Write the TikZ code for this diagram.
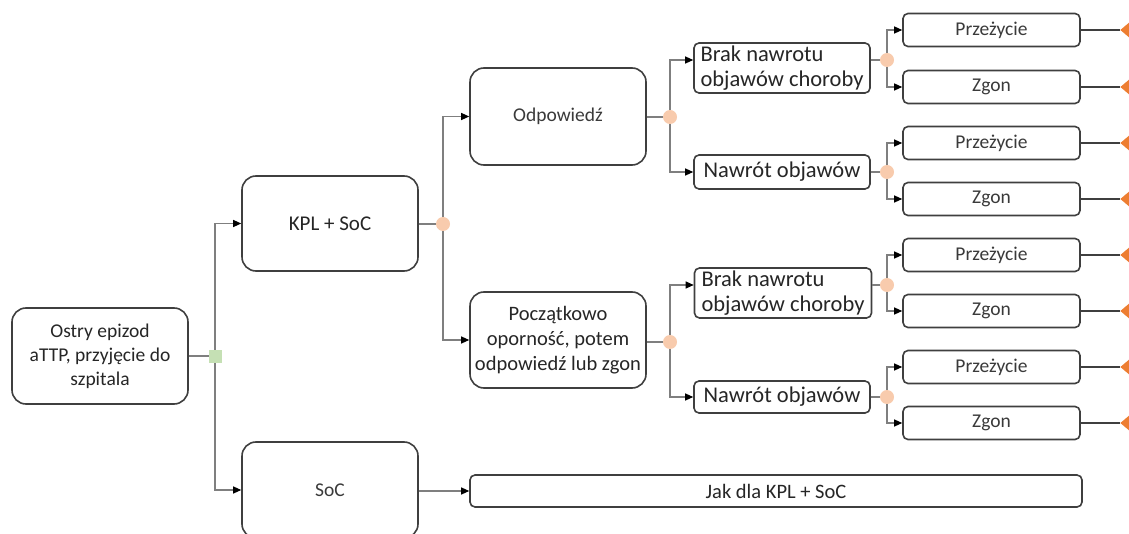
\documentclass[tikz,border=0pt]{standalone}
\usepackage{fontspec}
\setmainfont{Carlito}
\usetikzlibrary{arrows.meta,shapes.geometric}
\definecolor{boxc}{HTML}{3F3F3F}
\definecolor{linec}{HTML}{7F7F7F}
\definecolor{txt}{HTML}{262626}
\definecolor{txtg}{HTML}{3A3A3A}
\definecolor{peach}{HTML}{F8CBAD}
\definecolor{greenf}{HTML}{C5E0B4}
\definecolor{orangef}{HTML}{ED7D31}
\tikzset{
  bigbox/.style={draw=boxc, line width=1.6pt, rounded corners=14pt, fill=white,
    minimum width=176pt, minimum height=96pt, inner sep=0pt, align=center, text=txt},
  smallbox/.style={draw=boxc, line width=1.6pt, rounded corners=5pt, fill=white,
    minimum width=177pt, minimum height=33pt, inner sep=0pt, align=center, text=txt},
  conn/.style={draw=linec, line width=1.2pt},
  arr/.style={conn, -{Triangle[length=8pt,width=7pt,color=black]}},
  junc/.style={circle, fill=peach, minimum size=14pt, inner sep=0pt},
  gsq/.style={rectangle, fill=greenf, minimum size=13pt, inner sep=0pt},
  term/.style={isosceles triangle, shape border rotate=180, fill=orangef, inner sep=0pt,
    isosceles triangle apex angle=80, minimum height=12pt, anchor=apex},
  fbig/.style={font=\fontsize{22.5}{25}\selectfont},
  fpocz/.style={font=\fontsize{20.5}{25}\selectfont},
  fkpl/.style={font=\fontsize{21}{24}\selectfont},
  fstart/.style={font=\fontsize{19.5}{24}\selectfont},
  fmid/.style={font=\fontsize{19.5}{22}\selectfont, text=txtg},
  fjak/.style={font=\fontsize{20.5}{22}\selectfont}
}
\begin{document}
\begin{tikzpicture}[x=1pt,y=-1pt]
\clip (0,0) rectangle (1129,534);
\useasboundingbox (0,0) rectangle (1129,534);
% nodes
\node[bigbox,fstart] (start) at (100,356) {Ostry epizod\\aTTP, przyjęcie do\\szpitala};
\node[bigbox,fkpl,minimum height=95pt] (kpl) at (330,223.5) {KPL + SoC};
\node[bigbox,fmid] (soc) at (330,490) {SoC};
\node[bigbox,fmid,minimum height=97pt] (odp) at (558,116.5) {Odpowiedź};
\node[bigbox,fpocz] (pocz) at (558,340) {Początkowo\\oporność, potem\\odpowiedź lub zgon};
\node[smallbox,fbig,minimum width=176pt,minimum height=50pt,align=left] (brak1) at (782,68) {Brak nawrotu\\objawów choroby};
\node[smallbox,fbig,minimum width=176pt,minimum height=34pt] (naw1) at (782,172) {Nawrót objawów};
\node[smallbox,fbig,minimum width=177pt,minimum height=50pt,align=left] (brak2) at (783,293) {Brak nawrotu\\objawów choroby};
\node[smallbox,fbig,minimum width=176pt,minimum height=32pt] (naw2) at (782,397) {Nawrót objawów};
\node[smallbox,fmid] (p1) at (991.5,30) {Przeżycie};
\node[smallbox,fmid] (z1) at (991.5,87) {Zgon};
\node[smallbox,fmid] (p2) at (991.5,143) {Przeżycie};
\node[smallbox,fmid] (z2) at (991.5,199) {Zgon};
\node[smallbox,fmid] (p3) at (991.5,255) {Przeżycie};
\node[smallbox,fmid] (z3) at (991.5,311) {Zgon};
\node[smallbox,fmid] (p4) at (991.5,367) {Przeżycie};
\node[smallbox,fmid] (z4) at (991.5,423) {Zgon};
\node[smallbox,fjak,minimum width=612pt,minimum height=32pt] (jak) at (776,491) {Jak dla KPL + SoC};
% terminals
\foreach \n in {p1,z1,p2,z2,p3,z3,p4,z4}{
  \node[term] (t\n) at (1120,0 |- \n.east) {};
}
% junction coordinates
\coordinate (j0) at (215,356);
\coordinate (j1) at (443,224);
\coordinate (j2) at (670,117);
\coordinate (j3) at (670,342);
\coordinate (j4) at (887,60);
\coordinate (j5) at (887,172);
\coordinate (j6) at (887,285);
\coordinate (j7) at (887,397);
% connectors
\draw[conn] (start.east) -- (j0);
\draw[arr] (j0) |- (kpl.west);
\draw[arr] (j0) |- (soc.west);
\draw[conn] (kpl.east |- j1) -- (j1);
\draw[arr] (j1) |- (odp.west);
\draw[arr] (j1) |- (pocz.west);
\draw[conn] (odp.east |- j2) -- (j2);
\draw[arr] (j2) |- ([yshift=8pt]brak1.west);
\draw[arr] (j2) |- (naw1.west);
\draw[conn] (pocz.east |- j3) -- (j3);
\draw[arr] (j3) |- ([yshift=8pt]brak2.west);
\draw[arr] (j3) |- (naw2.west);
\draw[conn] ([yshift=8pt]brak1.east) -- (j4);
\draw[arr] (j4) |- (p1.west);
\draw[arr] (j4) |- (z1.west);
\draw[conn] (naw1.east) -- (j5);
\draw[arr] (j5) |- (p2.west);
\draw[arr] (j5) |- (z2.west);
\draw[conn] ([yshift=8pt]brak2.east) -- (j6);
\draw[arr] (j6) |- (p3.west);
\draw[arr] (j6) |- (z3.west);
\draw[conn] (naw2.east) -- (j7);
\draw[arr] (j7) |- (p4.west);
\draw[arr] (j7) |- (z4.west);
\draw[arr] (soc.east |- jak.west) -- (jak.west);
\foreach \n in {p1,z1,p2,z2,p3,z3,p4,z4}{
  \draw[conn, draw=boxc, line width=1.6pt] (\n.east) -- (t\n.apex);
}
% junction markers
\node[gsq] (g0) at (j0) {};
\foreach \j in {j1,j2,j3,j4,j5,j6,j7}{
  \node[junc] (c\j) at (\j) {};
}
\end{tikzpicture}
\end{document}
